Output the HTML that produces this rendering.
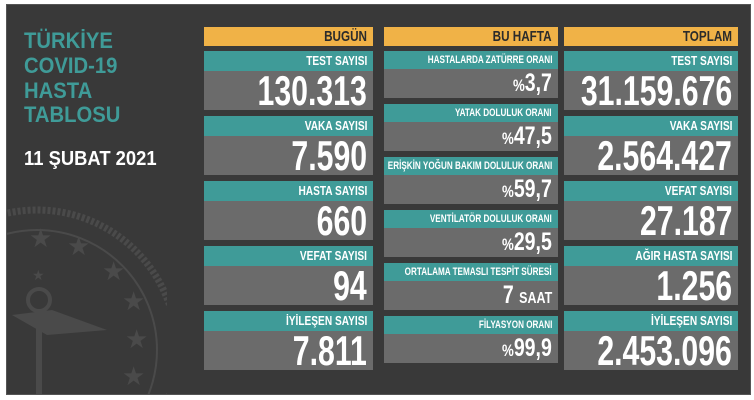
<!DOCTYPE html>
<html><head><meta charset="utf-8"><style>
*{margin:0;padding:0;box-sizing:border-box}
html,body{width:754px;height:400px;overflow:hidden}
body{background:#fff;position:relative;font-family:"Liberation Sans",sans-serif;font-weight:bold}
#p{position:absolute;left:6px;top:4px;width:745px;height:391px;background:#393939;border:1px solid #555}
.a{position:absolute}
.y{background:#f0b247}
.t{background:#3f9b98}
.g{background:#6b6b6b}
.txt{position:absolute;right:6px;white-space:nowrap;transform:scaleX(.78);transform-origin:right center}
.title{position:absolute;left:24px;color:#3f9b98;font-size:22px;line-height:25px;transform:scaleX(.92);transform-origin:left center}
</style></head><body>
<div id="p"></div>
<svg class="a" style="left:7px;top:200px" width="160" height="194" viewBox="0 0 160 194">
<circle cx="30" cy="150" r="140" fill="none" stroke="#4a4a4a" stroke-width="7" stroke-dasharray="3 2"/>
<circle cx="30" cy="150" r="120" fill="none" stroke="#4a4a4a" stroke-width="2"/>
<g fill="#4a4a4a" font-size="26" font-family="DejaVu Sans">
<text x="22" y="47">★</text><text x="60" y="55">★</text><text x="95" y="80">★</text><text x="115" y="110">★</text><text x="118" y="148">★</text><text x="115" y="185">★</text><text x="25" y="80" font-size="14">★</text></g>
<circle cx="32" cy="100" r="11" fill="none" stroke="#4a4a4a" stroke-width="4"/>
<path d="M5 115 L45 110 L100 130 L40 135 Z" fill="#4a4a4a"/>
<rect x="29" y="115" width="6" height="79" fill="#4a4a4a"/>
</svg>
<div class="title" style="top:28px">TÜRKİYE</div>
<div class="title" style="top:53px">COVID-19</div>
<div class="title" style="top:78px">HASTA</div>
<div class="title" style="top:102px">TABLOSU</div>
<div class="title" style="top:147px;color:#fff;font-size:20px">11 ŞUBAT 2021</div>

<div class="a y" style="left:204px;top:27px;width:169px;height:19px"><span class="txt" style="font-size:15px;line-height:19px;color:#2b2b2b">BUGÜN</span></div>
<div class="a y" style="left:384px;top:27px;width:174px;height:19px"><span class="txt" style="font-size:15px;line-height:19px;color:#2b2b2b">BU HAFTA</span></div>
<div class="a y" style="left:564px;top:27px;width:174px;height:19px"><span class="txt" style="font-size:15px;line-height:19px;color:#2b2b2b">TOPLAM</span></div>

<div id="c"></div>
<script>
var h='';
function big(x,w,top,label,val){
 h+='<div class="a t" style="left:'+x+'px;top:'+top+'px;width:'+w+'px;height:20px"><span class="txt" style="font-size:13px;line-height:20px;color:#fff">'+label+'</span></div>';
 h+='<div class="a g" style="left:'+x+'px;top:'+(top+20)+'px;width:'+w+'px;height:39px"><span class="txt" style="font-size:42px;line-height:39px;color:#fff;transform:scaleX(.72)">'+val+'</span></div>';
}
function sm(top,label,val){
 h+='<div class="a t" style="left:384px;top:'+top+'px;width:174px;height:18px"><span class="txt" style="font-size:11px;line-height:18px;color:#fff;transform:scaleX(.74)">'+label+'</span></div>';
 h+='<div class="a g" style="left:384px;top:'+(top+18)+'px;width:174px;height:29px"><span class="txt" style="font-size:25px;line-height:29px;color:#fff">'+val+'</span></div>';
}
var L1=[['TEST SAYISI','130.313'],['VAKA SAYISI','7.590'],['HASTA SAYISI','660'],['VEFAT SAYISI','94'],['İYİLEŞEN SAYISI','7.811']];
var L3=[['TEST SAYISI','31.159.676'],['VAKA SAYISI','2.564.427'],['VEFAT SAYISI','27.187'],['AĞIR HASTA SAYISI','1.256'],['İYİLEŞEN SAYISI','2.453.096']];
for(var i=0;i<5;i++){big(204,169,51+65*i,L1[i][0],L1[i][1]);big(564,174,51+65*i,L3[i][0],L3[i][1]);}
var P='<small style="font-size:17px">%</small>';
var L2=[['HASTALARDA ZATÜRRE ORANI',P+'3,7'],['YATAK DOLULUK ORANI',P+'47,5'],['ERİŞKİN YOĞUN BAKIM DOLULUK ORANI',P+'59,7'],['VENTİLATÖR DOLULUK ORANI',P+'29,5'],['ORTALAMA TEMASLI TESPİT SÜRESİ','7 <small style="font-size:16px">SAAT</small>'],['FİLYASYON ORANI',P+'99,9']];
for(var j=0;j<6;j++)sm(51+53*j,L2[j][0],L2[j][1]);
document.getElementById('c').innerHTML=h;
</script>
</body></html>
